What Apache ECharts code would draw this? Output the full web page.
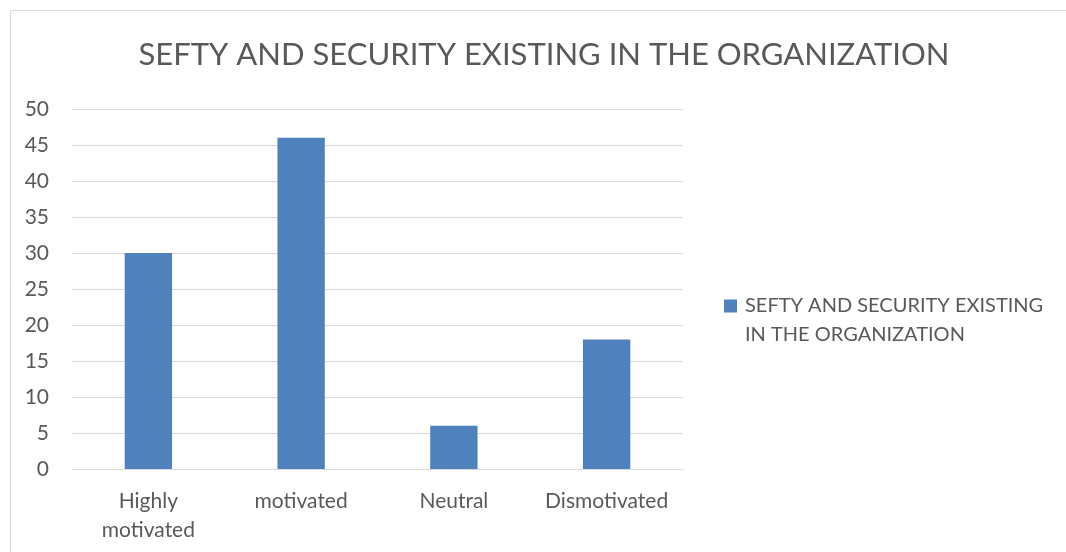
<!DOCTYPE html>
<html><head><meta charset="utf-8">
<script src="https://cdn.jsdelivr.net/npm/echarts@6/dist/echarts.min.js"></script>
<style>html,body{margin:0;padding:0;background:#fff}#c{width:1066px;height:552px}</style>
</head><body><div id="c"></div>
<script>
const titleText = 'SEFTY AND SECURITY EXISTING IN THE ORGANIZATION';
const seriesName = 'SEFTY AND SECURITY EXISTING IN THE ORGANIZATION';
const legendLine1 = 'SEFTY AND SECURITY EXISTING';
const legendLine2 = 'IN THE ORGANIZATION';
const categories = ['Highly\nmotivated', 'motivated', 'Neutral', 'Dismotivated'];
const values = [30, 46, 6, 18];
const yTicks = [0, 5, 10, 15, 20, 25, 30, 35, 40, 45, 50];

const chart = echarts.init(document.getElementById('c'));
const font = 'Lato, "Open Sans", sans-serif';
chart.setOption({
  animation: false,
  graphic: [
    {type:'rect', shape:{x:10.5,y:10.5,width:1070,height:560}, style:{fill:'none', stroke:'#d9d9d9', lineWidth:1}, silent:true},
    {type:'text', left: 745, top: 325, style:{text: legendLine2, fontFamily: font, fontSize: 20, fill: '#595959'}, silent:true}
  ],
  title: {text: titleText, left: 539, textAlign: 'center', top: 34,
    textStyle: {fontFamily: font, fontSize: 31, fontWeight: 'normal', color: '#595959'}},
  grid: {left: 72, right: 383, top: 109, bottom: 83, containLabel: false},
  legend: {show: true, orient: 'vertical', left: 719, top: 291, itemWidth: 13, itemHeight: 13, itemGap: 0,
    icon: 'rect',
    formatter: () => legendLine1,
    textStyle: {fontFamily: font, fontSize: 20, color: '#595959', padding: [0,0,0,3]}},
  xAxis: {type: 'category', data: categories,
    axisLine: {lineStyle: {color: '#d9d9d9', width: 1}}, axisTick: {show: false},
    axisLabel: {fontFamily: font, fontSize: 21, color: '#595959', margin: 18, lineHeight: 29, interval: 0}},
  yAxis: {type: 'value', min: 0, max: 50, interval: 5,
    axisLine: {show: false}, axisTick: {show: false},
    splitLine: {lineStyle: {color: '#d9d9d9', width: 1}},
    axisLabel: {fontFamily: font, fontSize: 21, color: '#595959', margin: 23,
      formatter: v => yTicks.includes(v) ? String(v) : ''}},
  series: [{name: seriesName, type: 'bar', data: values, barWidth: '31%',
    itemStyle: {color: '#4f81bd'}}]
});
</script></body></html>
